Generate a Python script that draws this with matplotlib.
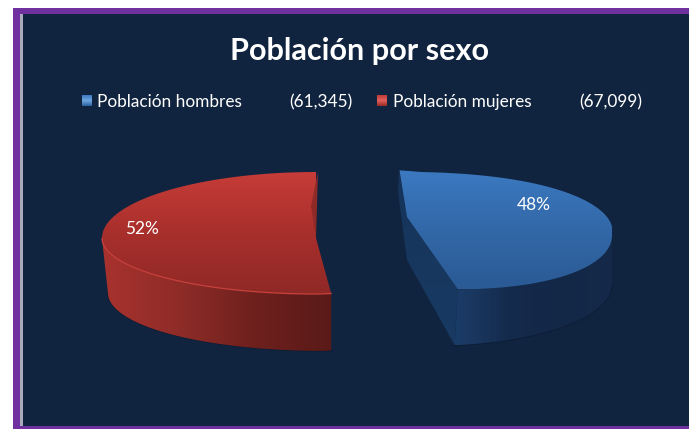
import matplotlib
matplotlib.use("Agg")
import matplotlib.pyplot as plt
import numpy as np
from matplotlib.colors import LinearSegmentedColormap
from matplotlib.patches import Polygon, Rectangle

categorias = ["Población hombres", "Población mujeres"]
poblacion = [61345, 67099]
etiquetas_valor = ["(61,345)", "(67,099)"]
etiquetas_pct = ["48%", "52%"]
titulo = "Población por sexo"

plt.rcParams["font.family"] = ["Lato", "DejaVu Sans"]

fondo = "#11243f"
morado = "#7030a0"

fig = plt.figure(figsize=(6.89, 4.29), dpi=100, facecolor="white")
ax = fig.add_axes([0, 0, 1, 1])
ax.axis("off")


def relleno(puntos, colores, vertical=True, z=3):
    # gradient image clipped to the polygon
    cmap = LinearSegmentedColormap.from_list("g", colores)
    puntos = np.array(puntos)
    x0, x1 = puntos[:, 0].min(), puntos[:, 0].max()
    y0, y1 = puntos[:, 1].min(), puntos[:, 1].max()
    g = np.linspace(0, 1, 256)
    g = g[:, None] if vertical else g[None, :]
    im = ax.imshow(g, cmap=cmap, extent=[x0, x1, y1, y0], aspect="auto", zorder=z, vmin=0, vmax=1)
    p = Polygon(puntos, closed=True, transform=ax.transData, fc="none", ec="none")
    ax.add_patch(p)
    im.set_clip_path(p)


def arco(t, cx, cy, a, sup, inf, cor_sup, cor_inf, sesgo):
    # unit circle angle (deg) to pixel position on the tilted pie
    u = np.cos(np.radians(t))
    v = np.sin(np.radians(t))
    x = cx + a * u + np.where(v > 0, cor_sup, cor_inf) * v
    y = cy - np.where(v > 0, sup, inf) * v + sesgo * u
    return x, y


total = sum(poblacion)
barrido = [360 * p / total for p in poblacion]

# frame and background
ax.add_patch(Rectangle((13, 8), 676, 421, fc=morado, ec="none", zorder=0))
ax.add_patch(Rectangle((20, 14), 669, 412, fc="#a9aabd", ec="none", zorder=1))
ax.add_patch(Rectangle((23, 14), 666, 412, fc=fondo, ec="none", zorder=1))

# red slice, runs counter clockwise from the top
t_r = np.linspace(90, 90 + barrido[1], 200)
xr, yr = arco(t_r, 316, 238, 214, 66, 56, 0, 0, 0)
ur = np.cos(np.radians(t_r))
xr = xr + np.where(ur > 0, -106 * ur, 0)
prof_r = 55 + 2 * (xr - xr.min()) / (xr.max() - xr.min())
frente = t_r >= 180
xr_abajo = xr + 6 * np.clip(-ur, 0, 1) ** 3
pared_r = list(zip(xr[frente], yr[frente])) + list(zip(xr_abajo[frente][::-1], (yr + prof_r)[frente][::-1]))
relleno(pared_r, ["#a8322e", "#8f2c28", "#6e201d", "#5a1a18"], vertical=False, z=3)
ax.plot(xr_abajo[frente], (yr + prof_r)[frente], color="#0c1a30", lw=1.2, alpha=0.7, zorder=2)
cara_r = list(zip(xr, yr)) + [(316, 238)]
relleno(cara_r, ["#c63c38", "#a82f2c", "#8f2926"], z=4)
ax.plot(xr[frente], yr[frente], color="#c9413c", lw=0.9, zorder=5)
ax.add_patch(Polygon([(318, 172), (316, 238), (311, 206)], fc="#8e2a27", ec="none", zorder=5))

# blue slice, runs clockwise from the top
t_b = np.linspace(96, 96 - barrido[0], 200)
xb, yb = arco(t_b, 407, 217, 205, 45, 70, 14, -1, 18)
ub = np.cos(np.radians(t_b))
vb = np.sin(np.radians(t_b))
yb = yb - 14 * np.clip(ub, 0, 1) * np.clip(vb, 0, 1)
prof_b = 56 - 8 * np.clip((xb - xb[-1]) / (xb.max() - xb[-1]), 0, 1)
frente_b = t_b <= 0
xb_abajo = xb - 3 * (1 - np.clip((xb - xb[-1]) / (xb.max() - xb[-1]), 0, 1)) ** 2
pared_b = list(zip(xb[frente_b], yb[frente_b])) + list(zip(xb_abajo[frente_b][::-1], (yb + prof_b)[frente_b][::-1]))
corte_b = [(399, 170), (407, 217), (xb[-1], yb[-1]), (xb_abajo[-1], yb[-1] + prof_b[-1]), (407, 260), (398, 192)]
relleno(corte_b, ["#16345a", "#183a63"], z=3)
relleno(pared_b, ["#1b3d69", "#152b4d", "#132747", "#152a4a"], vertical=False, z=3)
ax.plot(xb_abajo[frente_b], (yb + prof_b)[frente_b], color="#0b1a30", lw=1.2, alpha=0.8, zorder=2)
cara_b = list(zip(xb, yb)) + [(407, 217)]
relleno(cara_b, ["#3b79c0", "#3268a8", "#2b5a94"], z=4)

# title and legend
ax.text(359, 51, titulo, color="white", fontsize=22.1, fontweight="bold", ha="center", va="center", zorder=6)

relleno([(82, 95), (92, 95), (92, 106), (82, 106)], ["#3a78bf", "#6fa6e0", "#2a5f9f"], z=6)
relleno([(377, 95), (387, 95), (387, 106), (377, 106)], ["#c03a36", "#e0605b", "#962824"], z=6)

ax.text(97, 102, categorias[0], color="white", fontsize=12.4, va="center", zorder=6)
ax.text(289, 102, etiquetas_valor[0], color="white", fontsize=12.4, va="center", zorder=6)
ax.text(393, 102, categorias[1], color="white", fontsize=12.4, va="center", zorder=6)
ax.text(579, 102, etiquetas_valor[1], color="white", fontsize=12.4, va="center", zorder=6)

ax.text(534, 205, etiquetas_pct[0], color="white", fontsize=12.4, ha="center", va="center", zorder=6)
ax.text(142, 229, etiquetas_pct[1], color="white", fontsize=12.4, ha="center", va="center", zorder=6)

ax.set_xlim(0, 689)
ax.set_ylim(429, 0)

fig.savefig("out.png", dpi=100, facecolor="white")
